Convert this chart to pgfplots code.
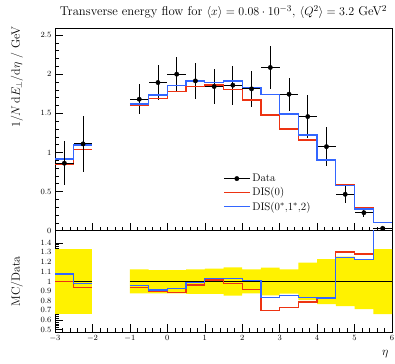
\documentclass[border=0pt]{standalone}
\usepackage{pgfplots}
\pgfplotsset{compat=1.18}
\definecolor{mcred}{rgb}{0.93,0.2,0.07}
\definecolor{mcblue}{rgb}{0.2,0.4,1.0}
\pgfplotsset{
  rivet/.style={
    scale only axis, width=337pt,
    xmin=-3, xmax=6,
    xtick={-3,...,6}, minor x tick num=4,
    xtick pos=bottom, ytick pos=left,
    tick align=inside,
    major tick length=8pt, minor tick length=4pt,
    every tick/.style={black, line width=0.5pt},
    axis line style={line width=0.7pt},
    tick label style={font=\footnotesize},
    label style={font=\large},
  },
  mcr/.style={draw=mcred, line width=1.3pt, const plot, mark=none},
  mcb/.style={draw=mcblue, line width=1.3pt, const plot, mark=none},
}
\begin{document}
\begin{tikzpicture}
\useasboundingbox (0,0) rectangle (395pt,363pt);
% ---------------- main panel
\begin{axis}[rivet,
  at={(55pt,132.3pt)}, anchor=south west, height=202.7pt,
  ymin=0, ymax=2.59,
  xticklabels={},
  ytick={0,0.5,1,1.5,2,2.5}, minor y tick num=4,
  ylabel={$1/N\,\mathrm{d}E_\perp/\mathrm{d}\eta$ / GeV},
  ylabel style={at={(rel axis cs:-0.085,1.025)}, anchor=south east},
  title={Transverse energy flow for $\langle x\rangle = 0.08\cdot10^{-3}$, $\langle Q^2\rangle = 3.2$ GeV$^2$},
  title style={font=\fontsize{12.7}{15}\selectfont, at={(0.5,1)}, anchor=south, yshift=0pt},
  legend style={at={(0.49,0.30)}, anchor=north west, draw=none, fill=none,
    font=\fontsize{11}{13}\selectfont, row sep=0.5pt},
  legend cell align=left,
]
\addplot[mcr, forget plot] coordinates {
  (-3,0.853) (-2.5,1.040) (-2,1.040)};
\addplot[mcb, forget plot] coordinates {
  (-3,0.917) (-2.5,1.096) (-2,1.096)};
\addplot[black, only marks, mark=*, mark size=2.2pt,
  legend image code/.code={
    \draw[black, line width=0.9pt] (0cm,0cm) -- (0.9cm,0cm);
    \fill[black] (0.45cm,0cm) circle (2.2pt);},
  error bars/.cd, x dir=both, x explicit, y dir=both, y explicit,
  error mark=none, error bar style={line width=0.9pt, black}]
  table[x=x, y=y, x error=ex, y error=ey] {
  x y ex ey
  -2.75 0.862 0.25 0.28
  -2.25 1.109 0.25 0.36
  -0.75 1.680 0.25 0.19
  -0.25 1.893 0.25 0.22
  0.25 2.000 0.25 0.22
  0.75 1.914 0.25 0.23
  1.25 1.842 0.25 0.226
  1.75 1.859 0.25 0.25
  2.25 1.812 0.25 0.228
  2.75 2.085 0.25 0.27
  3.25 1.744 0.25 0.213
  3.75 1.458 0.25 0.277
  4.25 1.074 0.25 0.245
  4.75 0.465 0.25 0.117
  5.25 0.230 0.25 0.058
  5.75 0.030 0.25 0.012
  };
\addlegendentry{Data}
\addplot[mcr, legend image code/.code={\draw[draw=mcred, line width=1.4pt] (0cm,0cm) -- (0.9cm,0cm);}] coordinates {
  (-1,1.600) (-0.5,1.693) (0,1.778) (0.5,1.846) (1.0,1.863) (1.5,1.808)
  (2.0,1.671) (2.5,1.480) (3.0,1.300) (3.5,1.160) (4.0,0.913) (4.5,0.593)
  (5.0,0.294) (5.5,0.107) (6,0.107)};
\addlegendentry{DIS(0)}
\addplot[mcb, legend image code/.code={\draw[draw=mcblue, line width=1.4pt] (0cm,0cm) -- (0.9cm,0cm);}] coordinates {
  (-1,1.617) (-0.5,1.735) (0,1.854) (0.5,1.914) (1.0,1.897) (1.5,1.914)
  (2.0,1.829) (2.5,1.744) (3.0,1.492) (3.5,1.224) (4.0,0.904) (4.5,0.576)
  (5.0,0.277) (5.5,0.107) (6,0.107)};
\addlegendentry{DIS(0$^*$,1$^*$,2)}
\end{axis}
% ---------------- ratio panel
\begin{axis}[rivet,
  at={(55pt,31pt)}, anchor=south west, height=101.3pt,
  ymin=0.475, ymax=1.525,
  ytick={0.5,0.6,0.7,0.8,0.9,1,1.1,1.2,1.3,1.4},
  yticklabels={0.5,0.6,0.7,0.8,0.9,1,1.1,1.2,1.3,1.4},
  minor y tick num=4,
  ylabel={MC/Data},
  ylabel style={at={(rel axis cs:-0.085,0.5)}, anchor=south},
  xlabel={$\eta$},
  xlabel style={at={(rel axis cs:1,-0.15)}, anchor=north east},
]
\addplot[draw=none, fill=yellow] coordinates {
  (-3,1.335) (-2,1.335) (-2,0.658) (-3,0.658)} -- cycle;
\addplot[draw=none, fill=yellow] coordinates {
  (-1,1.124) (-0.5,1.124) (-0.5,1.117) (0.5,1.117) (0.5,1.124) (1,1.124)
  (1,1.131) (1.5,1.131) (1.5,1.145) (2,1.145) (2,1.124) (2.5,1.124)
  (2.5,1.141) (3,1.141) (3,1.124) (3.5,1.124) (3.5,1.193) (4,1.193)
  (4,1.231) (4.5,1.231) (4.5,1.255) (5,1.255) (5,1.231) (5.5,1.231)
  (5.5,1.335) (6,1.335)
  (6,0.661) (5.5,0.661) (5.5,0.713) (5,0.713) (5,0.744) (4.5,0.744)
  (4.5,0.765) (4,0.765) (4,0.805) (3.5,0.805) (3.5,0.874) (3,0.874)
  (3,0.855) (2.5,0.855) (2.5,0.876) (2,0.876) (2,0.851) (1.5,0.851)
  (1.5,0.869) (0.5,0.869) (0.5,0.876) (-1,0.876)} -- cycle;
\addplot[black, line width=0.7pt, const plot] coordinates {(-3,1) (-2,1)};
\addplot[black, line width=0.7pt, const plot] coordinates {(-1,1) (6,1)};
\addplot[mcr] coordinates {
  (-3,1.000) (-2.5,0.934) (-2,0.934)};
\addplot[mcr] coordinates {
  (-1,0.938) (-0.5,0.892) (0,0.886) (0.5,0.962) (1.0,1.013) (1.5,0.975)
  (2.0,0.915) (2.5,0.700) (3.0,0.730) (3.5,0.785) (4.0,0.828) (4.5,1.305)
  (5.0,1.283) (5.5,3.5) (6,3.5)};
\addplot[mcb] coordinates {
  (-3,1.076) (-2.5,0.979) (-2,0.979)};
\addplot[mcb] coordinates {
  (-1,0.955) (-0.5,0.910) (0,0.925) (0.5,0.990) (1.0,1.026) (1.5,1.030)
  (2.0,1.006) (2.5,0.832) (3.0,0.851) (3.5,0.835) (4.0,0.828) (4.5,1.245)
  (5.0,1.228) (5.5,3.6) (6,3.6)};
\end{axis}
\end{tikzpicture}
\end{document}
